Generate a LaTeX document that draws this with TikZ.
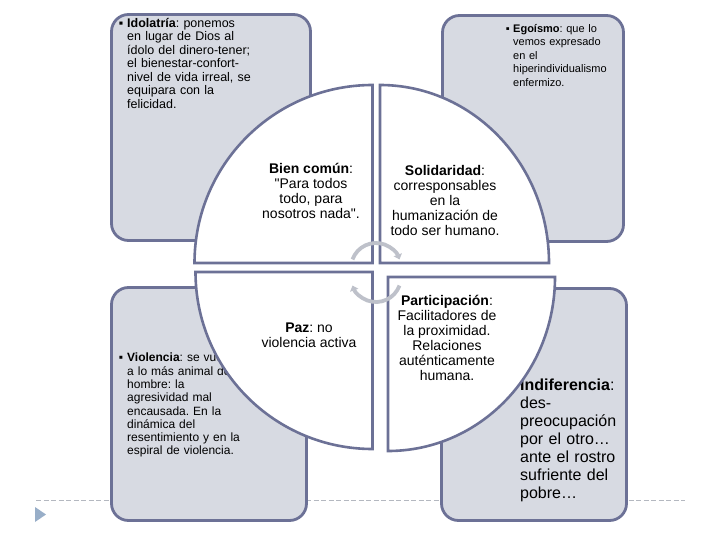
\documentclass[tikz,border=0pt]{standalone}
\usepackage{fontspec}
\setmainfont{Liberation Sans}
\usetikzlibrary{arrows.meta}
\definecolor{panel}{RGB}{215,218,226}
\definecolor{rim}{RGB}{108,113,150}
\definecolor{turngray}{RGB}{190,193,202}
\definecolor{sepline}{RGB}{180,184,192}
\definecolor{tri}{RGB}{152,174,200}
\tikzset{
  panelbox/.style={draw=rim,fill=panel,line width=2.8pt,rounded corners=17pt},
  quarter/.style={draw=rim,fill=white,line width=2.6pt},
  sidetext/.style={anchor=north west,inner sep=0pt,align=left,text width=#1},
  core/.style={align=center,inner sep=0pt,font=\fontsize{14}{15}\selectfont},
  turn/.style={draw=turngray,line width=3.8pt,-{Triangle[length=5pt,width=8.5pt]}},
  sep/.style={draw=sepline,line width=0.7pt,dash pattern=on 5pt off 2.5pt},
}
\begin{document}
\frenchspacing
\begin{tikzpicture}[x=1pt,y=-1pt]
\useasboundingbox (0,0) rectangle (720,540);
\coordinate (sepa) at (36,500);
\coordinate (sepb) at (685,500);
\draw[sep] (sepa) -- (sepb);
\fill[tri] (35,507) -- (46,514.5) -- (35,522) -- cycle;
\foreach \xa/\ya/\xb/\yb in {111.5/14.5/310.5/240.5,442.5/15.5/623.5/241.5,111.5/287.5/306.5/520.5,441.5/288.5/626.5/520.5}{
  \draw[panelbox] (\xa,\ya) rectangle (\xb,\yb);
}
\node[sidetext=160pt,font=\fontsize{12.5}{13.5}\selectfont] (idol) at (127,18)
  {\llap{▪\hspace{4pt}}\textbf{Idolatría}: ponemos\\en lugar de Dios al\\ídolo del dinero-tener;\\el bienestar-confort-\\nivel de vida irreal, se\\equipara con la\\felicidad.};
\node[sidetext=120pt,font=\fontsize{11}{13.5}\selectfont] (ego) at (513,24)
  {\llap{▪\hspace{3.5pt}}\textbf{Egoísmo}: que lo\\vemos expresado\\en el\\hiperindividualismo\\enfermizo.};
\node[sidetext=150pt,font=\fontsize{12}{13.3}\selectfont] (viol) at (127,353)
  {\llap{▪\hspace{4pt}}\textbf{Violencia}: se vuelve\\a lo más animal del\\hombre: la\\agresividad mal\\encausada. En la\\dinámica del\\resentimiento y en la\\espiral de violencia.};
\node[sidetext=110pt,font=\fontsize{16}{18}\selectfont] (indif) at (520,379)
  {\llap{▪\hspace{5pt}}\textbf{Indiferencia}:\\des-\\preocupación\\por el otro…\\ante el rostro\\sufriente del\\pobre…};
\coordinate (tl) at (372.5,263);
\coordinate (tr) at (380,263);
\coordinate (bl) at (372.5,272);
\coordinate (br) at (388,277);
\draw[quarter] (tl) -- ++(-178,0) arc[start angle=180,end angle=270,radius=178] -- cycle;
\draw[quarter] (tr) -- ++(0,-178) arc[start angle=270,end angle=360,x radius=169,y radius=178] -- cycle;
\draw[quarter] (bl) -- ++(-177,0) arc[start angle=180,end angle=90,radius=177] -- cycle;
\draw[quarter] (br) -- ++(167,0) arc[start angle=0,end angle=90,x radius=167,y radius=174] -- cycle;
\node[core] (bien) at (311,190.5) {\textbf{Bien común}:\\\textquotedbl Para todos\\todo, para\\nosotros nada\textquotedbl.};
\node[core] (solid) at (445,200) {\textbf{Solidaridad}:\\corresponsables\\en la\\humanización de\\todo ser humano.};
\node[core] (paz) at (309,335) {\textbf{Paz}: no\\violencia activa};
\node[core] (partic) at (447,337.5) {\textbf{Participación}:\\Facilitadores de\\la proximidad.\\Relaciones\\auténticamente\\humana.};
\coordinate (hubup) at (376,268);
\coordinate (hubdown) at (376,277);
\draw[turn] ([shift={(200:25)}]hubup) arc[start angle=200,end angle=340,radius=25];
\draw[turn] ([shift={(20:25)}]hubdown) arc[start angle=20,end angle=160,radius=25];
\end{tikzpicture}
\end{document}
